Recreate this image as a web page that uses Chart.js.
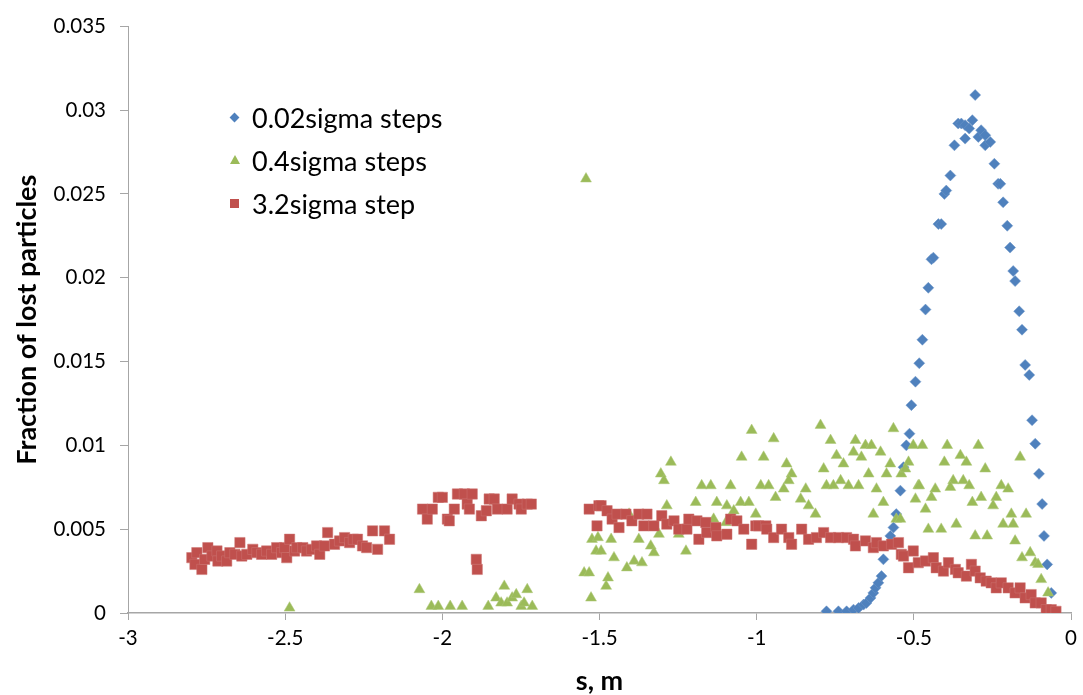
<!DOCTYPE html>
<html>
<head>
<meta charset="utf-8">
<script src="https://cdn.jsdelivr.net/npm/chart.js@4"></script>
<style>
  html, body { margin: 0; padding: 0; background: #fff; }
  .wrap { position: relative; width: 1083px; height: 695px; }
  .legend { position: absolute; left: 226px; top: 96px; font-family: Lato, "Open Sans", sans-serif; font-size: 27px; color: #000; }
  .legend div { height: 43px; line-height: 43px; position: relative; padding-left: 26px; white-space: nowrap; }
  .mk { position: absolute; }
  .diamond { width: 7px; height: 7px; background: #4F81BD; transform: rotate(45deg); left: 5px; top: 18px; }
  .tri { width: 0; height: 0; border-left: 5px solid transparent; border-right: 5px solid transparent; border-bottom: 9px solid #9BBB59; left: 4px; top: 16px; }
  .sq { width: 9px; height: 9px; background: #C0504D; left: 4px; top: 17px; }
</style>
</head>
<body>
<div class="wrap">
  <canvas id="chart" width="1083" height="695"></canvas>
  <div class="legend">
    <div><span class="mk diamond"></span>0.02sigma steps</div>
    <div><span class="mk tri"></span>0.4sigma steps</div>
    <div><span class="mk sq"></span>3.2sigma step</div>
  </div>
</div>
<script>
// 0.02sigma steps
const fineX = [-0.778, -0.740, -0.714, -0.692, -0.676, -0.660, -0.651, -0.638, -0.629, -0.622, -0.613, -0.603,
  -0.597, -0.575, -0.565, -0.556, -0.543, -0.533, -0.524, -0.514, -0.508, -0.495, -0.483, -0.473, -0.463,
  -0.454, -0.444, -0.438, -0.422, -0.413, -0.403, -0.397, -0.384, -0.371, -0.359, -0.349, -0.337, -0.337,
  -0.324, -0.314, -0.305, -0.295, -0.286, -0.273, -0.273, -0.257, -0.244, -0.232, -0.225, -0.216, -0.203,
  -0.194, -0.184, -0.178, -0.165, -0.156, -0.146, -0.133, -0.124, -0.114, -0.102, -0.092, -0.086, -0.076, -0.063];
const fineY = [0.0001, 0.0001, 0.0001, 0.0002, 0.0003, 0.0005, 0.0006, 0.0009, 0.0012, 0.0015, 0.0018, 0.0022,
  0.0032, 0.0046, 0.0051, 0.0059, 0.0073, 0.0087, 0.0100, 0.0107, 0.0124, 0.0138, 0.0149, 0.0163, 0.0181,
  0.0194, 0.0211, 0.0212, 0.0232, 0.0232, 0.0250, 0.0252, 0.0261, 0.0279, 0.0292, 0.0292, 0.0291, 0.0283,
  0.0289, 0.0294, 0.0309, 0.0284, 0.0288, 0.0285, 0.0279, 0.0281, 0.0268, 0.0256, 0.0256, 0.0245, 0.0231,
  0.0218, 0.0204, 0.0198, 0.0180, 0.0169, 0.0148, 0.0142, 0.0115, 0.0101, 0.0083, 0.0065, 0.0046, 0.0029, 0.0012];

// 0.4sigma steps
const midX = [-2.486, -2.073, -2.035, -2.013, -1.975, -1.937, -1.854, -1.829, -1.813, -1.803, -1.794, -1.778,
  -1.765, -1.749, -1.740, -1.730, -1.714, -1.543, -1.549, -1.527, -1.524, -1.511, -1.533, -1.479, -1.473,
  -1.495, -1.505, -1.463, -1.454, -1.413, -1.390, -1.365, -1.375, -1.337, -1.327, -1.311, -1.305, -1.295,
  -1.273, -1.286, -1.225, -1.248, -1.194, -1.175, -1.146, -1.083, -1.127, -1.095, -1.051, -1.025, -1.048,
  -1.016, -0.987, -0.962, -0.978, -0.946, -1.003, -0.940, -1.137, -1.073, -1.098, -1.406,
  -0.797, -0.765, -0.686, -0.654, -0.635, -0.565, -0.746, -0.692, -0.606, -0.905, -0.724, -0.667, -0.575,
  -0.787, -0.644, -0.587, -0.889, -0.898, -0.733, -0.778, -0.756, -0.708, -0.676, -0.844, -0.914, -0.619,
  -0.486, -0.860, -0.597, -0.835, -0.813, -0.629, -0.495, -0.556, -0.463, -0.540, -0.517,
  -0.502, -0.473, -0.394, -0.295, -0.352, -0.403, -0.333, -0.162, -0.273, -0.527, -0.483, -0.375, -0.343,
  -0.384, -0.324, -0.222, -0.200, -0.432, -0.444, -0.286, -0.238, -0.314, -0.248, -0.190, -0.143, -0.543,
  -0.365, -0.216, -0.184, -0.454, -0.413, -0.305, -0.267, -0.178, -0.130, -0.156, -0.114, -0.105, -0.095, -0.073];
const midY = [0.0003, 0.0014, 0.0004, 0.0004, 0.0004, 0.0004, 0.0004, 0.0009, 0.0006, 0.0016, 0.0006, 0.0009,
  0.0011, 0.0004, 0.0006, 0.0014, 0.0004, 0.0259, 0.0024, 0.0009, 0.0044, 0.0037, 0.0024, 0.0016, 0.0021,
  0.0037, 0.0045, 0.0044, 0.0033, 0.0027, 0.0031, 0.0030, 0.0044, 0.0040, 0.0036, 0.0047, 0.0083, 0.0079,
  0.0090, 0.0064, 0.0037, 0.0047, 0.0066, 0.0076, 0.0076, 0.0076, 0.0066, 0.0064, 0.0066, 0.0066, 0.0093,
  0.0109, 0.0076, 0.0076, 0.0093, 0.0104, 0.0059, 0.0069, 0.0056, 0.0061, 0.0054, 0.0059,
  0.0112, 0.0103, 0.0103, 0.0100, 0.0100, 0.0110, 0.0094, 0.0096, 0.0096, 0.0089, 0.0089, 0.0093, 0.0089,
  0.0086, 0.0083, 0.0083, 0.0083, 0.0079, 0.0079, 0.0076, 0.0076, 0.0076, 0.0076, 0.0074, 0.0074, 0.0074,
  0.0076, 0.0068, 0.0066, 0.0064, 0.0059, 0.0059, 0.0068, 0.0056, 0.0062, 0.0083, 0.0090,
  0.0100, 0.0100, 0.0100, 0.0100, 0.0094, 0.0090, 0.0090, 0.0093, 0.0086, 0.0086, 0.0076, 0.0079, 0.0079,
  0.0075, 0.0076, 0.0076, 0.0074, 0.0074, 0.0069, 0.0069, 0.0069, 0.0066, 0.0064, 0.0059, 0.0059, 0.0056,
  0.0053, 0.0053, 0.0053, 0.0050, 0.0050, 0.0046, 0.0046, 0.0043, 0.0036, 0.0033, 0.0030, 0.0029, 0.0020, 0.0012];

// 3.2sigma step
const coarseX = [-2.797, -2.787, -2.781, -2.765, -2.756, -2.746, -2.733, -2.717, -2.714, -2.702, -2.686, -2.676,
  -2.660, -2.644, -2.638, -2.622, -2.603, -2.590, -2.575, -2.559, -2.543, -2.527, -2.511, -2.502, -2.495,
  -2.486, -2.470, -2.463, -2.444, -2.432, -2.416, -2.400, -2.390, -2.375, -2.365, -2.343, -2.327, -2.311,
  -2.295, -2.283, -2.270, -2.254, -2.241, -2.222, -2.206, -2.184, -2.168,
  -2.063, -2.048, -2.032, -2.013, -2.000, -1.984, -1.978, -1.962, -1.952, -1.930, -1.921, -1.914, -1.905,
  -1.892, -1.889, -1.876, -1.860, -1.851, -1.835, -1.825, -1.794, -1.778, -1.756, -1.749, -1.730, -1.717,
  -1.533, -1.508, -1.502, -1.495, -1.476, -1.460, -1.444, -1.438, -1.416, -1.397, -1.375, -1.359, -1.349,
  -1.327, -1.302, -1.286, -1.263, -1.248, -1.222, -1.216, -1.190, -1.184, -1.162, -1.159, -1.130, -1.127,
  -1.095, -1.083, -1.063, -1.041, -1.016, -1.003, -0.994, -0.971, -0.968, -0.946, -0.921, -0.898, -0.889,
  -0.857, -0.835, -0.810, -0.787, -0.765, -0.740, -0.714, -0.692, -0.686, -0.654, -0.629, -0.619, -0.597,
  -0.571, -0.549, -0.540, -0.533, -0.517, -0.502, -0.486, -0.463, -0.438, -0.429, -0.406, -0.390, -0.368,
  -0.359, -0.333, -0.317, -0.305, -0.289, -0.270, -0.254, -0.238, -0.222, -0.200, -0.178, -0.162, -0.146,
  -0.127, -0.114, -0.095, -0.079, -0.063, -0.048];
const coarseY = [0.0033, 0.0029, 0.0036, 0.0026, 0.0032, 0.0039, 0.0034, 0.0037, 0.0031, 0.0034, 0.0031, 0.0036,
  0.0035, 0.0042, 0.0034, 0.0035, 0.0038, 0.0036, 0.0035, 0.0037, 0.0035, 0.0039, 0.0036, 0.0039, 0.0033,
  0.0044, 0.0037, 0.0039, 0.0039, 0.0037, 0.0038, 0.0040, 0.0035, 0.0040, 0.0048, 0.0041, 0.0043, 0.0045,
  0.0042, 0.0044, 0.0044, 0.0040, 0.0039, 0.0049, 0.0038, 0.0049, 0.0044,
  0.0062, 0.0056, 0.0062, 0.0069, 0.0069, 0.0056, 0.0055, 0.0062, 0.0071, 0.0071, 0.0065, 0.0062, 0.0071,
  0.0032, 0.0026, 0.0058, 0.0061, 0.0068, 0.0068, 0.0062, 0.0062, 0.0068, 0.0065, 0.0062, 0.0065, 0.0065,
  0.0062, 0.0052, 0.0064, 0.0064, 0.0061, 0.0056, 0.0059, 0.0051, 0.0059, 0.0055, 0.0059, 0.0052, 0.0059,
  0.0052, 0.0058, 0.0053, 0.0055, 0.0050, 0.0050, 0.0056, 0.0055, 0.0044, 0.0054, 0.0048, 0.0051, 0.0046,
  0.0047, 0.0056, 0.0055, 0.0050, 0.0041, 0.0052, 0.0052, 0.0052, 0.0050, 0.0045, 0.0050, 0.0045, 0.0041,
  0.0050, 0.0044, 0.0045, 0.0048, 0.0045, 0.0045, 0.0045, 0.0044, 0.0040, 0.0043, 0.0039, 0.0042, 0.0040,
  0.0041, 0.0042, 0.0035, 0.0034, 0.0027, 0.0037, 0.0030, 0.0031, 0.0033, 0.0027, 0.0025, 0.0030, 0.0026,
  0.0024, 0.0022, 0.0029, 0.0025, 0.0021, 0.0019, 0.0018, 0.0015, 0.0018, 0.0015, 0.0012, 0.0015, 0.0009,
  0.0011, 0.0006, 0.0006, 0.0002, 0.0002, 0.0001];

const xTicks = [-3, -2.5, -2, -1.5, -1, -0.5, 0];
const yTicks = [0, 0.005, 0.01, 0.015, 0.02, 0.025, 0.03, 0.035];

function pairs(xs, ys) {
    return xs.map((x, i) => ({ x: x, y: ys[i] }));
}

const axisGray = '#a6a6a6';
const fontFamily = 'Lato, "Open Sans", sans-serif';

const ctx = document.getElementById('chart').getContext('2d');
const chart = new Chart(ctx, {
    type: 'scatter',
    data: {
        datasets: [{
            label: '0.02sigma steps',
            data: pairs(fineX, fineY),
            pointStyle: 'rectRot',
            pointRadius: 5.5,
            backgroundColor: '#4F81BD',
            borderColor: '#6f97c9',
            borderWidth: 0.5,
            order: 3
        }, {
            label: '0.4sigma steps',
            data: pairs(midX, midY),
            pointStyle: 'triangle',
            pointRadius: 6.3,
            backgroundColor: '#9BBB59',
            borderColor: '#afc97b',
            borderWidth: 0.5,
            order: 2
        }, {
            label: '3.2sigma step',
            data: pairs(coarseX, coarseY),
            pointStyle: 'rect',
            pointRadius: 7.3,
            backgroundColor: '#C0504D',
            borderColor: '#cd7472',
            borderWidth: 0.5,
            order: 1
        }]
    },
    options: {
        responsive: false,
        animation: false,
        layout: {
            padding: { left: 0, right: 10, top: 18, bottom: 0 }
        },
        plugins: {
            legend: { display: false },
            tooltip: { enabled: false }
        },
        scales: {
            x: {
                type: 'linear',
                min: -3,
                max: 0,
                afterBuildTicks: scale => { scale.ticks = xTicks.map(v => ({ value: v })); },
                afterFit: scale => { scale.height = 82; },
                grid: { drawOnChartArea: false, tickLength: 7, color: axisGray },
                border: { color: axisGray, width: 1.5 },
                ticks: {
                    color: '#000',
                    padding: 6,
                    maxRotation: 0,
                    font: { family: fontFamily, size: 20.5 },
                    callback: v => String(v)
                },
                title: {
                    display: true,
                    text: 's, m',
                    color: '#000',
                    padding: { top: 0, bottom: 0 },
                    font: { family: fontFamily, size: 27, weight: 'bold', lineHeight: 1.0 }
                }
            },
            y: {
                min: 0,
                max: 0.035,
                afterBuildTicks: scale => { scale.ticks = yTicks.map(v => ({ value: v })); },
                afterFit: scale => { scale.width = 128; },
                grid: { drawOnChartArea: false, tickLength: 8, color: axisGray },
                border: { color: axisGray, width: 1 },
                ticks: {
                    color: '#000',
                    padding: 14,
                    font: { family: fontFamily, size: 20.5 },
                    callback: v => String(Number(v.toFixed(3)))
                },
                title: {
                    display: true,
                    text: 'Fraction of lost particles',
                    color: '#000',
                    padding: { top: 14, bottom: 0 },
                    font: { family: fontFamily, size: 27, weight: 'bold', lineHeight: 1.0 }
                }
            }
        }
    }
});
</script>
</body>
</html>
